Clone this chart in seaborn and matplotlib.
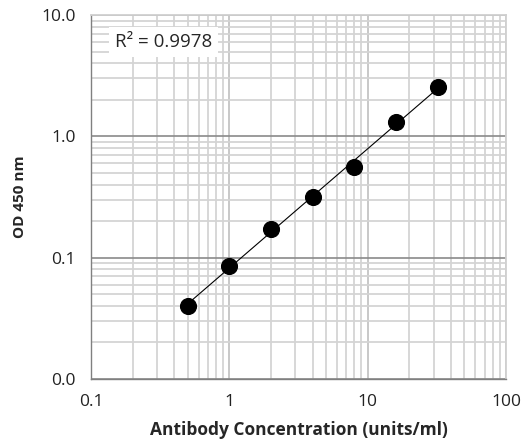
import numpy as np
import pandas as pd
import seaborn as sns
import matplotlib.pyplot as plt
from matplotlib.ticker import FixedLocator, LogLocator, NullFormatter

# donnees
concentration = [0.5, 1, 2, 4, 8, 16, 32]
od_450 = [0.040, 0.086, 0.173, 0.319, 0.555, 1.31, 2.54]
r2_text = "R² = 0.9978"
x_ticks = [0.1, 1, 10, 100]
x_labels = ["0.1", "1", "10", "100"]
y_ticks = [0.01, 0.1, 1, 10]
y_labels = ["0.0", "0.1", "1.0", "10.0"]

df = pd.DataFrame({"conc": concentration, "od": od_450})

# courbe de tendance (puissance)
pente, inter = np.polyfit(np.log10(df["conc"]), np.log10(df["od"]), 1)
fit = pd.DataFrame({"conc": df["conc"]})
fit["od"] = 10 ** (inter + pente * np.log10(fit["conc"]))

sns.set_style("white")
plt.rcParams['font.family'] = ['Open Sans', 'DejaVu Sans']

fig = plt.figure(figsize=(5.3, 4.46), dpi=100)
ax = fig.add_axes([0.1717, 0.1502, 0.783, 0.8162])

ax.set_xscale("log")
ax.set_yscale("log")
ax.set_xlim(0.1, 100)
ax.set_ylim(0.01, 10)

sns.lineplot(data=fit, x="conc", y="od", color="black", linewidth=0.8, ax=ax, zorder=3)
sns.scatterplot(data=df, x="conc", y="od", color="black", s=130, edgecolor="black",
                ax=ax, zorder=4)

ax.xaxis.set_major_locator(FixedLocator(x_ticks))
ax.set_xticklabels(x_labels)
ax.yaxis.set_major_locator(FixedLocator(y_ticks))
ax.set_yticklabels(y_labels)
ax.xaxis.set_minor_locator(LogLocator(base=10, subs=np.arange(2, 10)))
ax.yaxis.set_minor_locator(LogLocator(base=10, subs=np.arange(2, 10)))
ax.xaxis.set_minor_formatter(NullFormatter())
ax.yaxis.set_minor_formatter(NullFormatter())

ax.xaxis.grid(True, which="major", color="#c4c4c4", linewidth=1.3)
ax.yaxis.grid(True, which="major", color="#8a8a8a", linewidth=1.2)
ax.grid(True, which="minor", color="#d4d4d4", linewidth=1.3)
ax.set_axisbelow(True)

for s in ["top", "right"]:
    ax.spines[s].set_color("#d0d0d0")
    ax.spines[s].set_linewidth(1.3)
for s in ["left", "bottom"]:
    ax.spines[s].set_color("#808080")
    ax.spines[s].set_linewidth(1.0)

ax.tick_params(axis="both", which="major", direction="out", length=5, width=1,
               color="#808080", labelsize=12.5, labelcolor="#222222", pad=6)
ax.tick_params(axis="both", which="minor", length=0)

ax.set_xlabel("Antibody Concentration (units/ml)", fontsize=12.5, fontweight="bold", labelpad=8)
ax.set_ylabel("OD 450 nm", fontsize=11, fontweight="bold", labelpad=10)

ax.text(0.058, 0.926, r2_text, transform=ax.transAxes, fontsize=13.5, va="center",
        ha="left", zorder=5,
        bbox=dict(boxstyle="square,pad=0.3", facecolor="white", edgecolor="none"))

fig.savefig("out.png", dpi=100)
